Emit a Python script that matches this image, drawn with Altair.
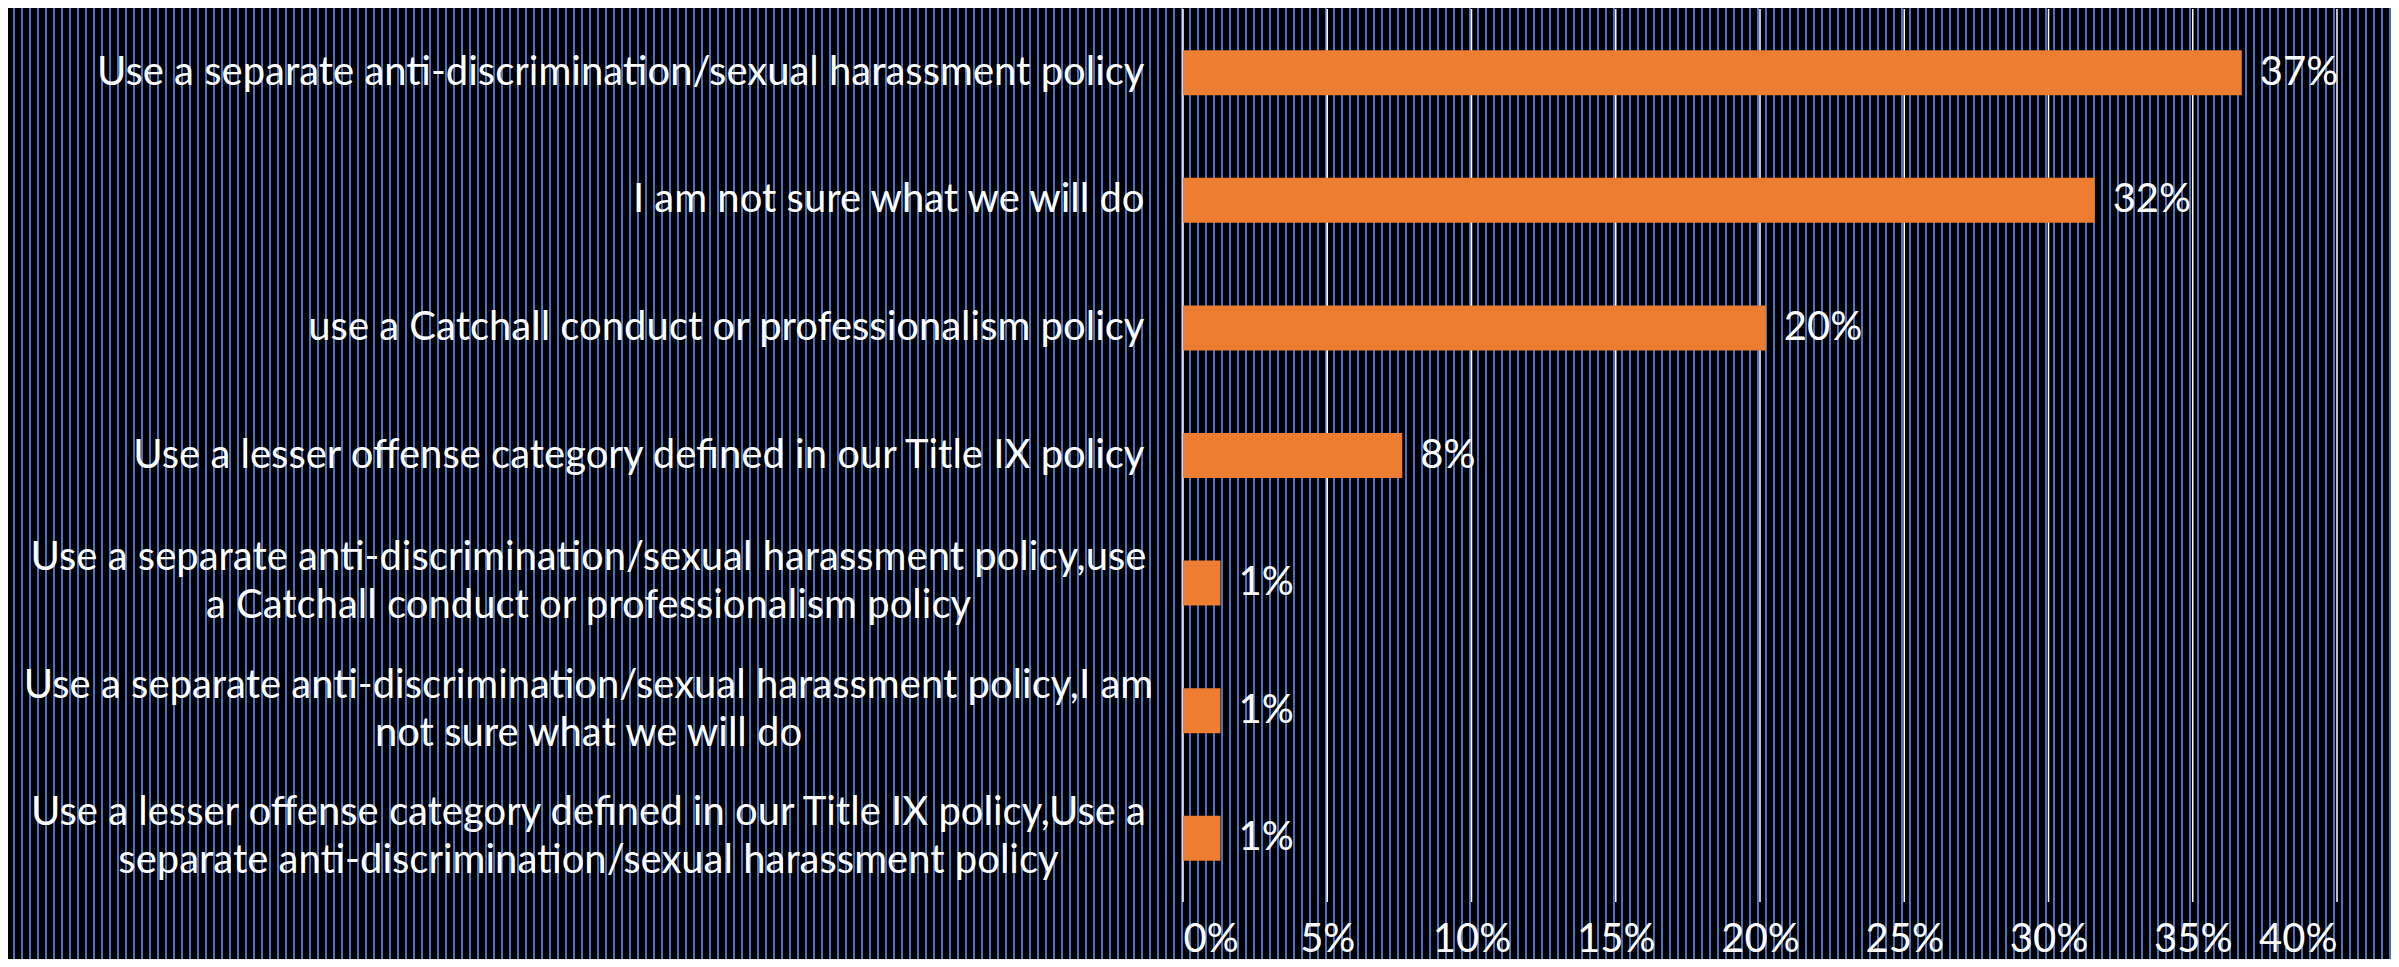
import altair as alt
import pandas as pd

# ---- data ----
categories = [
    "Use a separate anti-discrimination/sexual harassment policy",
    "I am not sure what we will do",
    "use a Catchall conduct or professionalism policy",
    "Use a lesser offense category defined in our Title IX policy",
    "Use a separate anti-discrimination/sexual harassment policy,use\na Catchall conduct or professionalism policy",
    "Use a separate anti-discrimination/sexual harassment policy,I am\nnot sure what we will do",
    "Use a lesser offense category defined in our Title IX policy,Use a\nseparate anti-discrimination/sexual harassment policy",
]
values = [0.367, 0.316, 0.202, 0.076, 0.013, 0.013, 0.013]
tick_values = [0.0, 0.05, 0.10, 0.15, 0.20, 0.25, 0.30, 0.35, 0.40]

df = pd.DataFrame({"category": categories, "value": values})
ticks_df = pd.DataFrame({"tick": tick_values})

# ---- style / layout ----
FONT = "Lato"
FS = 40
PLOT_W, PLOT_H = 1154, 893
PAD_L, PAD_T, PAD_R, PAD_B = 1175, 1, 54, 57
TOTAL_W = PAD_L + PLOT_W + PAD_R
TOTAL_H = PAD_T + PLOT_H + PAD_B
BLUE = "#4472C4"
ORANGE = "#ED7D31"

multi = "indexof(datum.value, '\\n') >= 0"

x_axis = alt.Axis(
    title=None, format=".0%", values=tick_values, grid=False, ticks=False,
    domain=False, labelPadding=17, labelFontSize=FS, labelFont=FONT,
    labelColor="white", zindex=1,
)
y_axis = alt.Axis(
    title=None, ticks=False, domain=False, labelLimit=0, zindex=1,
    labelExpr="split(datum.label, '\\n')",
    labelAlign={"condition": {"test": multi, "value": "center"}, "value": "right"},
    labelPadding={"condition": {"test": multi, "value": 595}, "value": 39},
    labelOffset={"condition": {"test": multi, "value": -25}, "value": 0},
    labelFontSize=FS, labelFont=FONT, labelColor="white", labelLineHeight=48,
)
x_scale = alt.Scale(domain=[0, 0.4], nice=False)
y_scale = alt.Scale(paddingInner=0.647, paddingOuter=0.3235)

# background pattern: black with 2px blue vertical lines every 8px,
# drawn as one very thick dashed horizontal stroke across the whole chart
stripes = alt.Chart(alt.Data(values=[{}])).mark_rule(
    color=BLUE, strokeWidth=TOTAL_H, strokeDash=[2, 6], strokeDashOffset=3,
    strokeCap="butt",
).encode(
    x=alt.value(-PAD_L), x2=alt.value(PLOT_W + PAD_R),
    y=alt.value((PLOT_H + PAD_B - PAD_T) / 2),
    y2=alt.value((PLOT_H + PAD_B - PAD_T) / 2),
)

grid = alt.Chart(ticks_df).mark_rule(color="white", strokeWidth=1.5).encode(
    x=alt.X("tick:Q", scale=x_scale, axis=x_axis),
)

bars = alt.Chart(df).mark_bar(color=ORANGE).encode(
    x=alt.X("value:Q", scale=x_scale, axis=x_axis),
    y=alt.Y("category:N", sort=categories, scale=y_scale, axis=y_axis),
)

labels = alt.Chart(df).mark_text(
    align="left", baseline="middle", dx=18, fontSize=FS, font=FONT, color="white"
).encode(
    x=alt.X("value:Q", scale=x_scale, axis=x_axis),
    y=alt.Y("category:N", sort=categories, scale=y_scale, axis=y_axis),
    text=alt.Text("value:Q", format=".0%"),
)

chart = alt.layer(stripes, grid, bars, labels).properties(
    width=PLOT_W, height=PLOT_H,
    autosize=alt.AutoSizeParams(type="none"),
    padding={"left": PAD_L, "top": PAD_T, "right": PAD_R, "bottom": PAD_B},
    background="black",
).configure_view(stroke=None)

chart.save("out.html", embed_options={"renderer": "svg", "actions": False})
